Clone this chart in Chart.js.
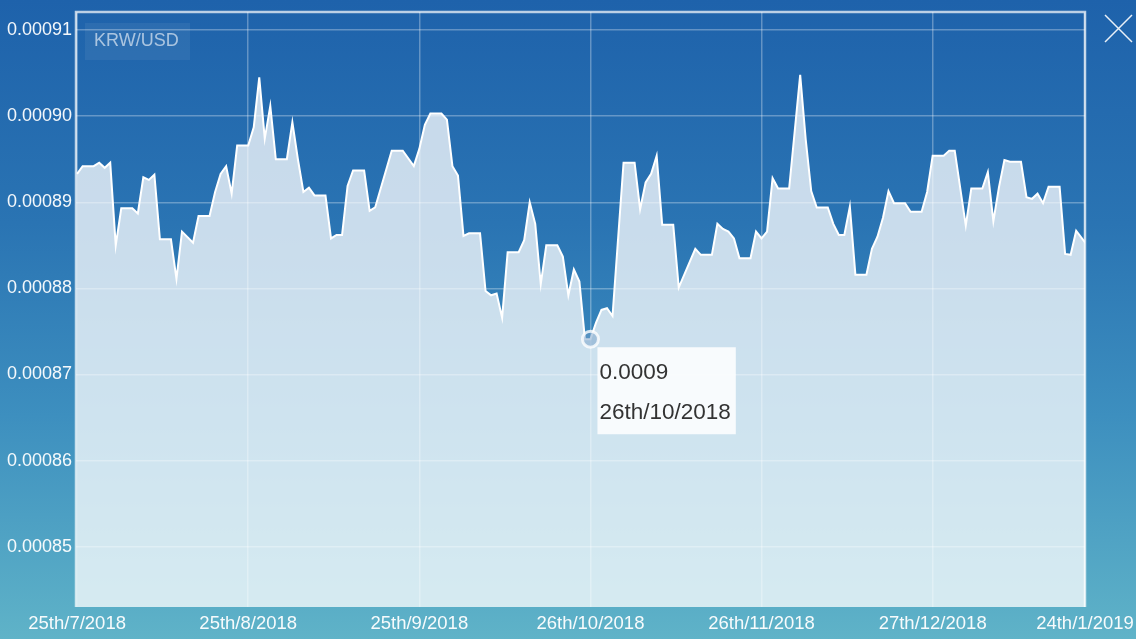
<!DOCTYPE html>
<html>
<head>
<meta charset="utf-8">
<script src="https://cdn.jsdelivr.net/npm/chart.js@4.4.0/dist/chart.umd.min.js"></script>
<style>
  html, body { margin: 0; padding: 0; }
  body {
    width: 1136px;
    height: 639px;
    overflow: hidden;
    background: linear-gradient(to bottom, #1e62ab 0%, #2a74b3 35%, #3d8fbf 65%, #5fb3c8 100%);
  }
  .wrap { position: relative; width: 1136px; height: 639px; }
</style>
</head>
<body>
<div class="wrap"><canvas id="rateChart"></canvas></div>
<script>
// days since 25/7/2018 at each turn of the line, and the KRW/USD rate there
const days = [
  0, 1, 3, 4, 5, 6, 7, 8, 10, 11, 12, 13, 14, 15, 17, 18, 19, 21, 22, 24,
  25, 26, 27, 28, 29, 31, 32, 33, 34, 35, 36, 38, 39, 40, 41, 42, 43, 45, 46, 47,
  48, 49, 50, 52, 53, 54, 57, 59, 61, 62, 63, 64, 66, 67, 68, 69, 70, 71, 73, 74,
  75, 76, 77, 78, 80, 81, 82, 83, 84, 85, 87, 88, 89, 90, 91, 92, 93, 94, 95, 96,
  97, 99, 101, 102, 103, 104, 105, 106, 108, 109, 112, 113, 115, 116, 117, 118, 119, 120, 122, 123,
  124, 125, 126, 127, 129, 131, 132, 133, 134, 136, 137, 138, 139, 140, 141, 143, 144, 145, 146, 147,
  148, 150, 151, 153, 154, 155, 157, 158, 159, 161, 162, 164, 165, 166, 167, 168, 169, 171, 172, 173,
  174, 175, 176, 178, 179, 180, 181, 183
];
const rates = [
  0.0008933, 0.0008942, 0.0008942, 0.0008946, 0.0008940, 0.0008946, 0.0008850, 0.0008893, 0.0008893, 0.0008887,
  0.0008929, 0.0008926, 0.0008932, 0.0008857, 0.0008857, 0.0008811, 0.0008866, 0.0008853, 0.0008884, 0.0008884,
  0.0008912, 0.0008933, 0.0008942, 0.0008910, 0.0008966, 0.0008966, 0.0008987, 0.0009045, 0.0008974, 0.0009012,
  0.0008950, 0.0008950, 0.0008993, 0.0008950, 0.0008912, 0.0008917, 0.0008908, 0.0008908, 0.0008858, 0.0008862,
  0.0008862, 0.0008919, 0.0008937, 0.0008937, 0.0008890, 0.0008894, 0.0008960, 0.0008960, 0.0008942, 0.0008962,
  0.0008990, 0.0009003, 0.0009003, 0.0008996, 0.0008942, 0.0008931, 0.0008861, 0.0008864, 0.0008864, 0.0008797,
  0.0008792, 0.0008794, 0.0008766, 0.0008842, 0.0008842, 0.0008856, 0.0008900, 0.0008875, 0.0008805, 0.0008850,
  0.0008850, 0.0008837, 0.0008792, 0.0008822, 0.0008808, 0.0008741, 0.0008741, 0.0008760, 0.0008775, 0.0008777,
  0.0008768, 0.0008946, 0.0008946, 0.0008892, 0.0008923, 0.0008933, 0.0008954, 0.0008874, 0.0008874, 0.0008801,
  0.0008846, 0.0008839, 0.0008839, 0.0008875, 0.0008869, 0.0008866, 0.0008858, 0.0008835, 0.0008835, 0.0008866,
  0.0008858, 0.0008866, 0.0008928, 0.0008916, 0.0008916, 0.0009048, 0.0008973, 0.0008913, 0.0008894, 0.0008894,
  0.0008875, 0.0008862, 0.0008862, 0.0008895, 0.0008816, 0.0008816, 0.0008846, 0.0008860, 0.0008882, 0.0008913,
  0.0008899, 0.0008899, 0.0008889, 0.0008889, 0.0008912, 0.0008954, 0.0008954, 0.0008960, 0.0008960, 0.0008873,
  0.0008916, 0.0008916, 0.0008935, 0.0008878, 0.0008917, 0.0008949, 0.0008947, 0.0008947, 0.0008906, 0.0008904,
  0.0008910, 0.0008899, 0.0008918, 0.0008918, 0.0008840, 0.0008839, 0.0008867, 0.0008850
];
const xMin = -0.2;
const xMax = 182.6;
const tickDays = [0, 31, 62, 93, 124, 155, xMax];
const tickLabels = ['25th/7/2018', '25th/8/2018', '25th/9/2018', '26th/10/2018', '26th/11/2018', '27th/12/2018', '24th/1/2019'];
const yTicks = [0.00085, 0.00086, 0.00087, 0.00088, 0.00089, 0.0009, 0.00091];
const pairLabel = 'KRW/USD';
const activeDay = 93;

function dayLabel(day) {
  const d = new Date(2018, 6, 25 + day);
  return d.getDate() + 'th/' + (d.getMonth() + 1) + '/' + d.getFullYear();
}

Chart.Tooltip.positioners.besidePoint = function (items) {
  if (!items.length) return false;
  const el = items[0].element;
  return { x: el.x + 7, y: el.y };
};

// frame, pair badge and close icon
const decor = {
  id: 'decor',
  afterDatasetsDraw(chart) {
    const { ctx, chartArea: a } = chart;
    ctx.save();
    ctx.strokeStyle = 'rgba(255,255,255,0.7)';
    ctx.lineWidth = 2.5;
    ctx.beginPath();
    ctx.moveTo(a.left, a.bottom);
    ctx.lineTo(a.left, a.top);
    ctx.lineTo(a.right, a.top);
    ctx.lineTo(a.right, a.bottom);
    ctx.stroke();

    ctx.fillStyle = 'rgba(255,255,255,0.06)';
    ctx.fillRect(a.left + 9, a.top + 11, 105, 37);
    ctx.fillStyle = 'rgba(255,255,255,0.6)';
    ctx.font = '18px "Liberation Sans", Arial, sans-serif';
    ctx.textBaseline = 'middle';
    ctx.fillText(pairLabel, a.left + 18, a.top + 29);

    ctx.strokeStyle = 'rgba(255,255,255,0.9)';
    ctx.lineWidth = 1.5;
    ctx.beginPath();
    ctx.moveTo(1105, 15);
    ctx.lineTo(1132, 42);
    ctx.moveTo(1132, 15);
    ctx.lineTo(1105, 42);
    ctx.stroke();
    ctx.restore();
  }
};

const ctx = document.getElementById('rateChart').getContext('2d');
const chart = new Chart(ctx, {
  type: 'line',
  data: {
    datasets: [{
      label: pairLabel,
      data: days.map((d, i) => ({ x: d, y: rates[i] })),
      borderColor: '#ffffff',
      borderWidth: 2,
      backgroundColor: 'rgba(255,255,255,0.75)',
      fill: 'start',
      tension: 0,
      pointRadius: 0,
      pointHoverRadius: 8,
      pointHoverBorderWidth: 3,
      pointHoverBorderColor: 'rgba(255,255,255,0.8)',
      pointHoverBackgroundColor: 'rgba(120,160,200,0.5)'
    }]
  },
  options: {
    responsive: true,
    maintainAspectRatio: false,
    animation: false,
    events: [],
    layout: { padding: { left: 5, right: 51, top: 12, bottom: 4 } },
    scales: {
      x: {
        type: 'linear',
        min: xMin,
        max: xMax,
        afterBuildTicks: (scale) => { scale.ticks = tickDays.map(v => ({ value: v })); },
        afterFit: (scale) => { scale.height = 28; scale.paddingLeft = 0; scale.paddingRight = 0; },
        grid: { color: 'rgba(255,255,255,0.3)', lineWidth: 1.5, drawTicks: false },
        border: { display: false },
        ticks: {
          autoSkip: false,
          maxRotation: 0,
          padding: 6,
          color: 'rgba(255,255,255,0.95)',
          font: { family: '"Liberation Sans", Arial, sans-serif', size: 18.5 },
          callback: (v) => tickLabels[tickDays.indexOf(v)]
        }
      },
      y: {
        min: 0.000843,
        max: 0.0009121,
        afterBuildTicks: (scale) => { scale.ticks = yTicks.map(v => ({ value: v })); },
        afterFit: (scale) => { scale.width = 71; scale.paddingTop = 0; scale.paddingBottom = 0; },
        grid: { color: 'rgba(255,255,255,0.3)', lineWidth: 1.5, drawTicks: false },
        border: { display: false },
        ticks: {
          padding: 4,
          color: 'rgba(255,255,255,0.95)',
          font: { family: '"Liberation Sans", Arial, sans-serif', size: 18 },
          callback: (v) => v.toFixed(5)
        }
      }
    },
    plugins: {
      legend: { display: false },
      tooltip: {
        position: 'besidePoint',
        xAlign: 'left',
        yAlign: 'top',
        caretSize: 0,
        caretPadding: 8,
        cornerRadius: 0,
        displayColors: false,
        backgroundColor: 'rgba(255,255,255,0.85)',
        titleColor: '#333333',
        bodyColor: '#333333',
        titleFont: { family: '"Liberation Sans", Arial, sans-serif', size: 22.5, weight: 'normal' },
        bodyFont: { family: '"Liberation Sans", Arial, sans-serif', size: 22.5 },
        titleMarginBottom: 13,
        padding: { top: 12, bottom: 8, left: 2, right: 5 },
        callbacks: {
          title: (items) => items[0].parsed.y.toFixed(4),
          label: (item) => dayLabel(item.parsed.x)
        }
      }
    }
  },
  plugins: [decor]
});

const idx = days.indexOf(activeDay);
chart.setActiveElements([{ datasetIndex: 0, index: idx }]);
chart.tooltip.setActiveElements([{ datasetIndex: 0, index: idx }], { x: 0, y: 0 });
chart.update();
</script>
</body>
</html>
